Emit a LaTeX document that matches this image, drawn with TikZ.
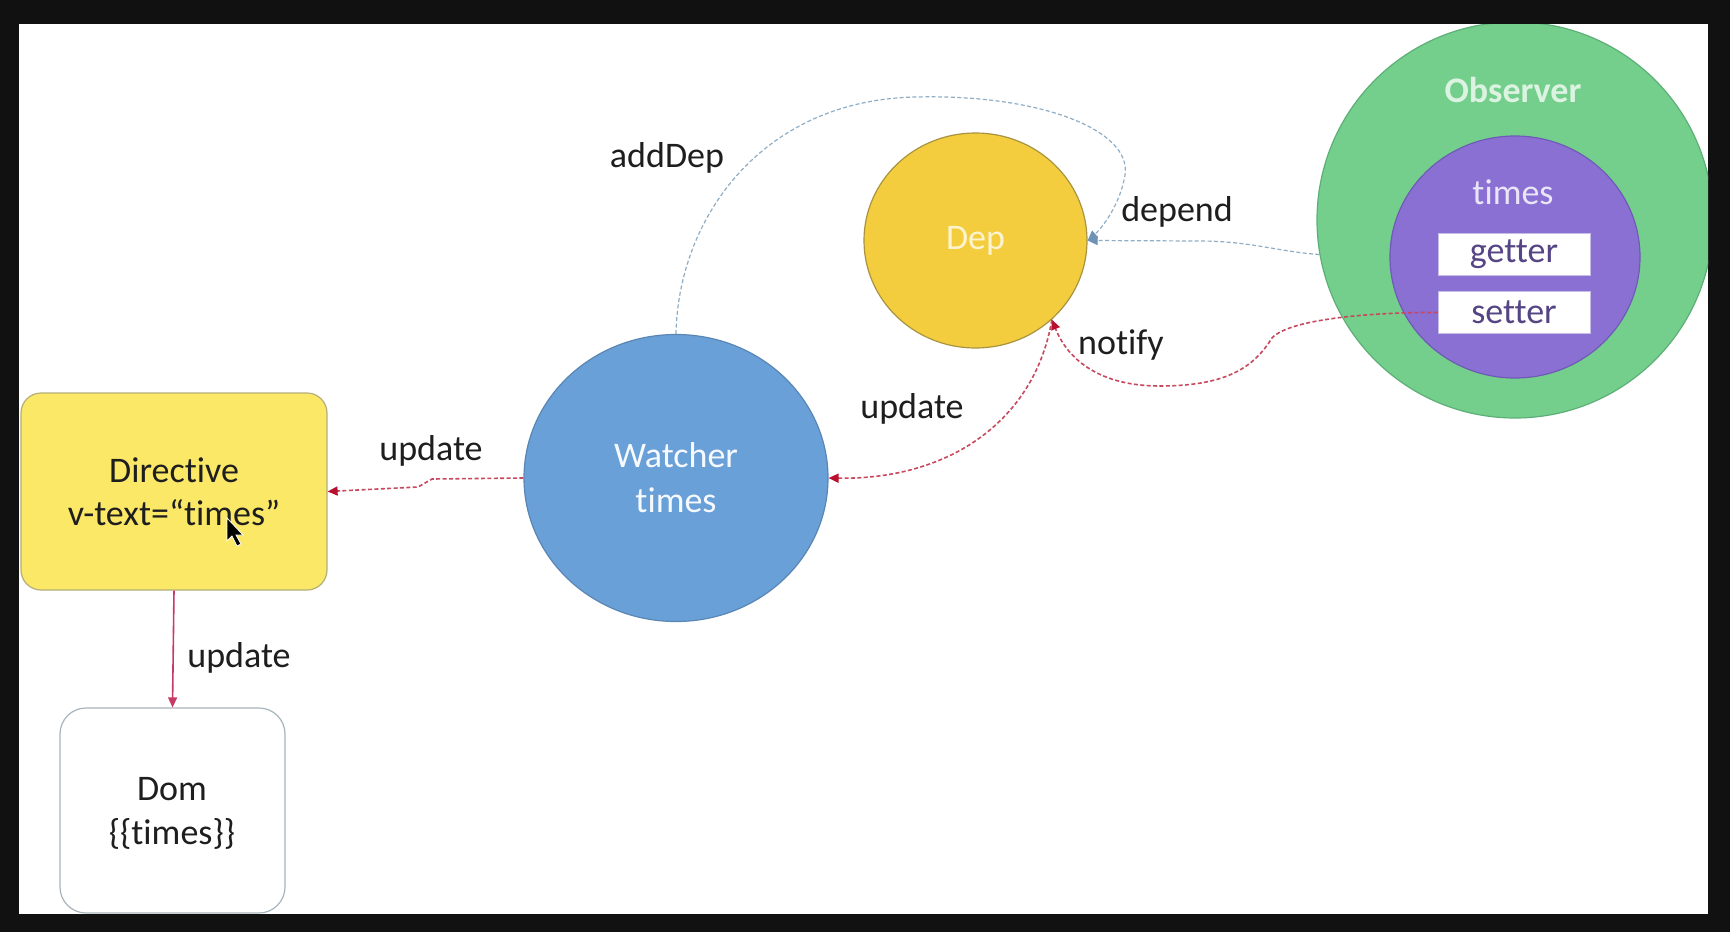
\documentclass[tikz,border=0pt]{standalone}
\usepackage{fontspec}
\setmainfont{Carlito}[Ligatures={NoCommon}]
\usetikzlibrary{arrows.meta,shapes.geometric}
\definecolor{bgblack}{HTML}{111111}
\definecolor{obsgreen}{HTML}{74CF8C}
\definecolor{obsedge}{HTML}{5DAF78}
\definecolor{purp}{HTML}{8A70D2}
\definecolor{purpedge}{HTML}{6F5AB8}
\definecolor{depyel}{HTML}{F4CD3E}
\definecolor{depedge}{HTML}{A89440}
\definecolor{watblue}{HTML}{6AA0D8}
\definecolor{watedge}{HTML}{5A86B4}
\definecolor{diryel}{HTML}{FBE866}
\definecolor{diredge}{HTML}{B4AE7A}
\definecolor{domedge}{HTML}{A8B4BC}
\definecolor{labelc}{HTML}{1E1E1E}
\definecolor{reddash}{HTML}{C8485E}
\definecolor{redtip}{HTML}{B8102E}
\definecolor{bluedash}{HTML}{8FAEC6}
\definecolor{bluetip}{HTML}{7092B4}
\definecolor{solidred}{HTML}{C83A66}
\definecolor{gstext}{HTML}{554585}
\begin{document}
\begin{tikzpicture}[x=0.5pt,y=-0.5pt,
  every node/.style={font=\fontsize{18}{22}\selectfont},
  lbl/.style={text=labelc},
  ell/.style={ellipse, inner sep=0pt, line width=0.6pt},
  gsbox/.style={rectangle, fill=white, draw=purpedge!40, line width=0.5pt, minimum width=76pt, minimum height=21pt, inner sep=0pt, text=gstext},
  bluelink/.style={draw=bluedash, line width=0.6pt, dash pattern=on 2pt off 1.2pt, -{Triangle[length=5pt,width=4.5pt,fill=bluetip,color=bluetip]}},
  redlink/.style={draw=reddash, line width=0.8pt, dash pattern=on 2pt off 1.2pt, -{Triangle[length=5pt,width=4.5pt,fill=redtip,color=redtip]}},
  solidlink/.style={draw=solidred, line width=0.8pt, -{Triangle[length=5pt,width=4.5pt,fill=solidred,color=solidred]}}
]
\useasboundingbox (0,0) rectangle (1730,932);
\fill[bgblack] (0,0) rectangle (1730,932);
\fill[white] (19,24) rectangle (1708,914);
\begin{scope}
\clip (19,24) rectangle (1708,914);
% Observer
\node[ell, fill=obsgreen, draw=obsedge, minimum width=198pt, minimum height=198pt] (obs) at (1515,220) {};
\node[ell, fill=purp, draw=purpedge, minimum width=125pt, minimum height=121pt] (inner) at (1515,257) {};
\node[text=obsgreen!25!white, font=\fontsize{18}{22}\selectfont\bfseries] (obstxt) at (1513,90) {Observer};
\node[text=purp!18!white] (timestxt) at (1513,192) {times};
\node[gsbox] (getter) at (1514,254) {getter};
\node[gsbox] (setter) at (1514,312.5) {setter};
% Dep
\node[ell, fill=depyel, draw=depedge, minimum width=111.5pt, minimum height=107.5pt, text=depyel!25!white] (dep) at (975.5,240.5) {Dep};
% Watcher
\node[ell, fill=watblue, draw=watedge, minimum width=152pt, minimum height=143.5pt, text=white!94!watblue, align=center, font=\fontsize{18}{22.5}\selectfont] (wat) at (676,478) {Watcher\\times};
% Directive
\node[rectangle, rounded corners=10pt, fill=diryel, draw=diredge, line width=0.6pt, minimum width=153pt, minimum height=98.5pt, inner sep=0pt, text=labelc, align=center, font=\fontsize{18}{21.5}\selectfont] (dir) at (174,491.5) {Directive\\v-text=“times”};
% Dom
\node[rectangle, rounded corners=13pt, fill=white, draw=domedge, line width=0.6pt, minimum width=112.5pt, minimum height=102.5pt, inner sep=0pt] (dom) at (172.5,810.5) {};
\node[text=labelc, align=center] (domtxt) at (172,813) {Dom\\\{\{times\}\}};
\end{scope}
% cursor
\fill[black, draw=white, line width=0.4pt] (227,518) -- (227,541) -- (232,536) -- (237,546) -- (241,544) -- (236,535) -- (243,535) -- cycle;
% labels
\node[lbl] (l1) at (431,451) {update};
\node[lbl] (l2) at (912,409) {update};
\node[lbl] (l3) at (239,658) {update};
\node[lbl] (l4) at (667,158) {addDep};
\node[lbl] (l5) at (1177,212) {depend};
\node[lbl] (l6) at (1121,345) {notify};
% connectors
\draw[bluelink] (wat.north) .. controls (678,220) and (760,100) .. (916,97) .. controls (1040,94) and (1132,130) .. (1125,175) .. controls (1120,205) and (1102,228) .. (dep.east);
\draw[bluelink] (obs.190) .. controls (1280,252) and (1250,241) .. (1200,241) -- (dep.east);
\draw[redlink] (setter.west) .. controls (1380,312) and (1290,318) .. (1272,338) .. controls (1255,365) and (1230,386) .. (1160,386) .. controls (1100,386) and (1068,360) .. (dep.-46);
\draw[redlink] (dep.-46) .. controls (1035,420) and (950,480) .. (wat.east);
\draw[redlink] (wat.west) -- (432,479) -- (418,487) -- (dir.east);
\draw[solidlink] (dir.south) -- (dom.north);
\end{tikzpicture}
\end{document}
